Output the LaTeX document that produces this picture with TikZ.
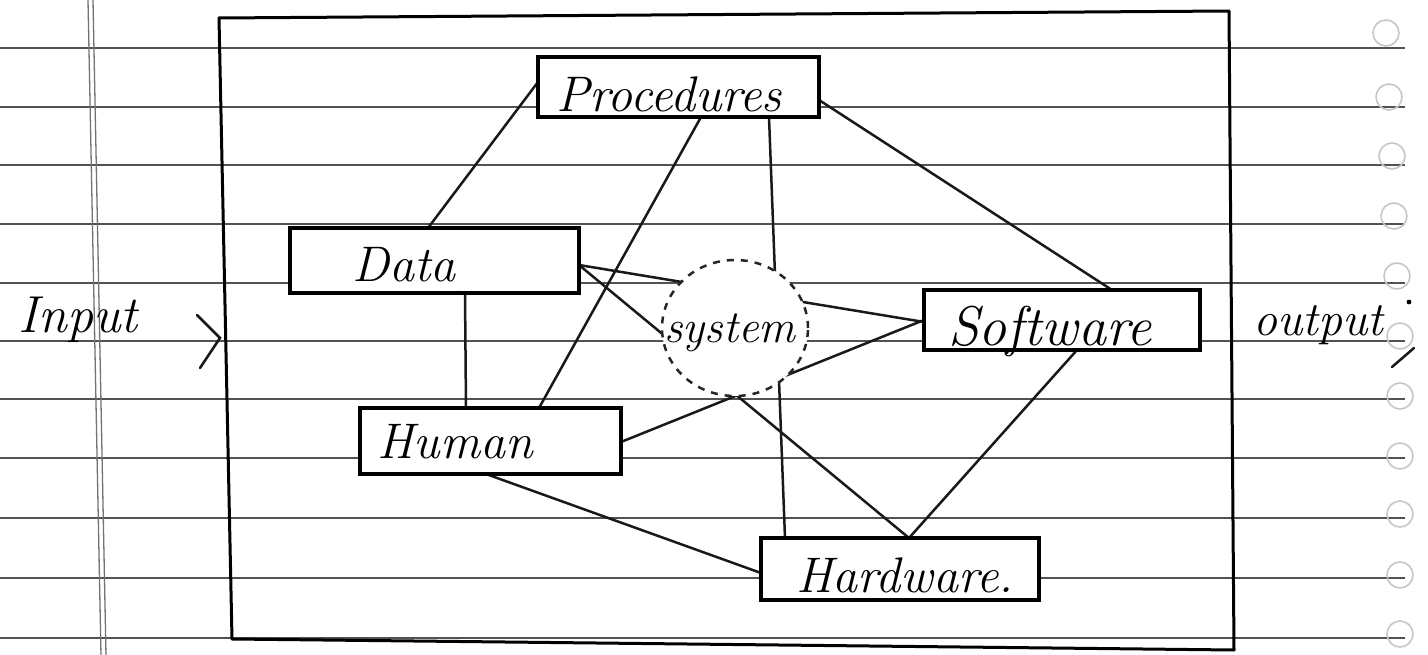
\documentclass[tikz,border=0pt]{standalone}
\usetikzlibrary{shapes.geometric}
\pgfdeclarelayer{paper}
\pgfdeclarelayer{bg}
\pgfsetlayers{paper,bg,main}
\tikzset{
  ruled/.style={draw=black!68, line width=1.8pt},
  marginline/.style={draw=black!55, line width=1.3pt},
  hole/.style={draw=black!22, line width=1.6pt},
  frame/.style={draw=black, line width=3pt, line join=round},
  box/.style={rectangle, draw=black, line width=3.4pt, fill=white, inner sep=0pt, outer sep=0pt},
  conn/.style={draw=black!90, line width=2.5pt, line cap=round},
  sysring/.style={ellipse, draw=black!85, line width=2.5pt, dash pattern=on 7pt off 7pt,
                  fill=white, inner sep=0pt, outer sep=0pt},
  hand/.style={font=\fontsize{50}{60}\selectfont\itshape, inner sep=0pt, anchor=base},
}
\begin{document}
\begin{tikzpicture}[x=1pt,y=-1pt]
\useasboundingbox (0,0) rectangle (1428,655);
\begin{pgfonlayer}{paper}
  \fill[white] (0,0) rectangle (1428,655);
\end{pgfonlayer}

% blocks
\node[box, minimum width=281pt, minimum height=60pt] (proc) at (678.5,87) {};
\node[box, minimum width=289pt, minimum height=65pt] (data) at (434.5,260.5) {};
\node[box, minimum width=276pt, minimum height=60pt] (soft) at (1062,320) {};
\node[box, minimum width=261pt, minimum height=66pt] (human) at (490.5,441) {};
\node[box, minimum width=278pt, minimum height=62pt] (hard) at (900,569) {};
\node[sysring, minimum width=146pt, minimum height=136pt] (sys) at (735,328) {};

% labels
\node[hand] (proclbl) at (669,112) {Procedures};
\node[hand] (datalbl) at (404,282) {Data};
\node[hand, font=\fontsize{46}{54}\selectfont\itshape] (syslbl) at (730,342) {system};
\node[hand, font=\fontsize{56}{64}\selectfont\itshape] (softlbl) at (1050,345) {Software};
\node[hand] (humanlbl) at (455,458) {Human};
\node[hand] (hardlbl) at (905,592) {Hardware.};
\node[hand, font=\fontsize{52}{60}\selectfont\itshape] (inlbl) at (78,332) {Input};
\node[hand, font=\fontsize{48}{56}\selectfont\itshape] (outlbl) at (1318,335) {output};

\begin{pgfonlayer}{bg}
  % notebook paper
  \foreach \y in {48,107,165,224,283,341,399,458,518,578,638}
    \draw[ruled] (0,\y) -- (1405,\y);
  \draw[marginline] (88,0) -- (101,655);
  \draw[marginline] (93,0) -- (106,655);
  \foreach \x/\y in {1386/33,1389/97,1392/156,1394/216,1397/276,1400/336,
                     1400/396,1400/456,1400/514,1400/575,1400/634}
    \draw[hole] (\x,\y) circle[radius=13pt];

  % system boundary
  \draw[frame] (219,18) -- (1229,11) -- (1234,650) -- (232,639) -- cycle;

  % links between the components
  \draw[conn] ([yshift=5pt]proc.west) -- ([xshift=-6.5pt]data.north);
  \draw[conn] ([xshift=22.5pt]proc.south) -- ([xshift=48.5pt]human.north);
  \draw[conn] ([xshift=90.5pt]proc.south) -- ([xshift=-115pt]hard.north);
  \draw[conn] ([yshift=-13pt]proc.east) -- ([xshift=50pt]soft.north);
  \draw[conn] ([yshift=-4.5pt]data.east) -- ([yshift=-2pt]soft.west);
  \draw[conn] ([yshift=-4.5pt]data.east) -- ([xshift=9pt]hard.north);
  \draw[conn] ([xshift=30.5pt]data.south) -- ([xshift=-24.5pt]human.north);
  \draw[conn] ([yshift=-1pt]human.east) -- (soft.west);
  \draw[conn] ([xshift=-4.5pt]human.south) -- ([yshift=-4pt]hard.west);
  \draw[conn] ([xshift=15pt]soft.south) -- ([xshift=9pt]hard.north);
\end{pgfonlayer}

% input and output arrows
\coordinate (intip) at (220,338);
\draw[conn] ([shift={(-23pt,23pt)}]intip) -- (intip) -- ([shift={(-20pt,-30pt)}]intip);
\coordinate (outtip) at (1414,348);
\draw[conn] ([shift={(-22pt,-19pt)}]outtip) -- (outtip);
\fill[black] (1409,302) circle[radius=2.4pt];
\end{tikzpicture}
\end{document}
